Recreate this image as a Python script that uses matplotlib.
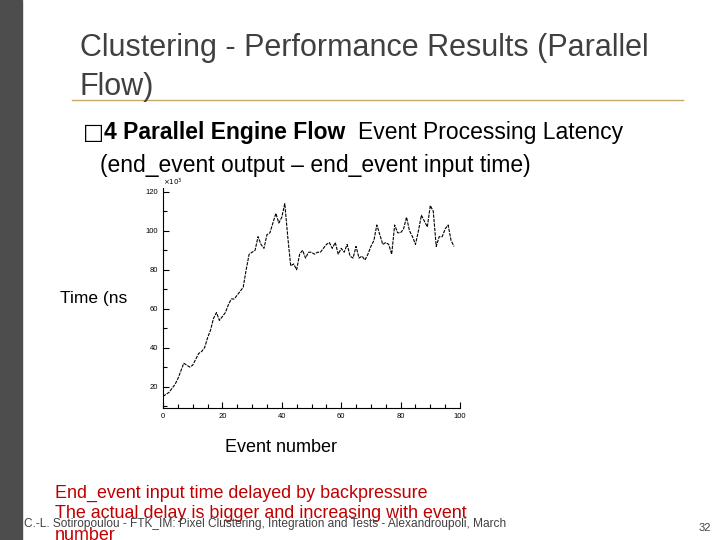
import matplotlib.pyplot as plt
from matplotlib.ticker import MultipleLocator
from matplotlib.lines import Line2D

plt.rcParams['font.family'] = ['Liberation Sans', 'DejaVu Sans']

event = list(range(99))
latency = [15, 16, 17, 19, 21, 24, 28, 32, 31, 30, 31, 34, 37, 38, 40, 45, 49, 55, 58, 54,
           56, 58, 62, 65, 65, 67, 69, 71, 80, 88, 89, 90, 97, 93, 91, 98, 99, 104, 109, 104,
           107, 114, 97, 82, 83, 80, 88, 90, 86, 89, 89, 88, 89, 89, 91, 93, 94, 91, 94, 88,
           91, 89, 93, 87, 86, 92, 86, 87, 85, 88, 92, 95, 103, 98, 93, 94, 93, 88, 103, 99,
           99, 101, 107, 100, 97, 93, 100, 108, 105, 102, 113, 110, 92, 97, 97, 101, 103, 95, 92]

fig = plt.figure(figsize=(7.2, 5.4), dpi=100)
fig.patch.set_facecolor('white')

# slide decoration
fig.patches.append(plt.Rectangle((0, 0), 22/720, 1, transform=fig.transFigure,
                                 color='#4d4d4d', zorder=0))
fig.lines.append(Line2D([72/720, 683/720], [1-100/540, 1-100/540], transform=fig.transFigure,
                        color='#c8a96e', lw=1))
fig.text(80/720, 1-48/540, 'Clustering - Performance Results (Parallel', fontsize=22,
         color='#404040', va='center')
fig.text(80/720, 1-87/540, 'Flow)', fontsize=22, color='#404040', va='center')
fig.text(83/720, 1-133/540, '\u25a1', fontsize=16, family='DejaVu Sans', va='center')
fig.text(104/720, 1-133/540, '4 Parallel Engine Flow', fontsize=16.5, weight='bold', va='center')
fig.text(358/720, 1-133/540, 'Event Processing Latency', fontsize=16.5, va='center')
fig.text(100/720, 1-166/540, '(end_event output \u2013 end_event input time)', fontsize=16.5,
         va='center')
fig.text(60/720, 1-298/540, 'Time (ns', fontsize=12.5, va='center')
fig.text(281/720, 1-447/540, 'Event number', fontsize=13, va='center', ha='center')
fig.text(55/720, 1-493/540, 'End_event input time delayed by backpressure', fontsize=12.9,
         color='#c00000', va='center')
fig.text(55/720, 1-513/540, 'The actual delay is bigger and increasing with event', fontsize=12.9,
         color='#c00000', va='center')
fig.text(55/720, 1-535/540, 'number', fontsize=12.9, color='#c00000', va='center')
fig.text(24/720, 1-524/540, 'C.-L. Sotiropoulou - FTK_IM: Pixel Clustering, Integration and Tests - '
         'Alexandroupoli, March', fontsize=8.6, color='#404040', va='center')
fig.text(705/720, 1-528/540, '32', fontsize=8, color='#404040', va='center', ha='center')

# plot image
bg = fig.add_axes([120/720, 1-420/540, 350/720, 248/540])
bg.set_facecolor('white')
bg.axis('off')
ax = fig.add_axes([163/720, 1-408/540, 297/720, 220/540])
ax.plot(event, latency, color='black', lw=0.8, ls=(0, (3, 1)))
ax.set_xlim(0, 100)
ax.set_ylim(9, 122)
for s in ['top', 'right']:
    ax.spines[s].set_visible(False)
ax.spines['left'].set_linewidth(0.8)
ax.spines['bottom'].set_linewidth(0.8)
ax.xaxis.set_major_locator(MultipleLocator(20))
ax.xaxis.set_minor_locator(MultipleLocator(5))
ax.yaxis.set_major_locator(MultipleLocator(20))
ax.yaxis.set_minor_locator(MultipleLocator(10))
ax.set_yticks([20, 40, 60, 80, 100, 120])
ax.tick_params(labelsize=5.5, direction='in', length=4, width=0.8)
ax.tick_params(which='minor', direction='in', length=3, width=0.8)
ax.text(0.0, 1.01, r'$\times10^3$', transform=ax.transAxes, fontsize=5)

fig.savefig('out.png', dpi=100)
